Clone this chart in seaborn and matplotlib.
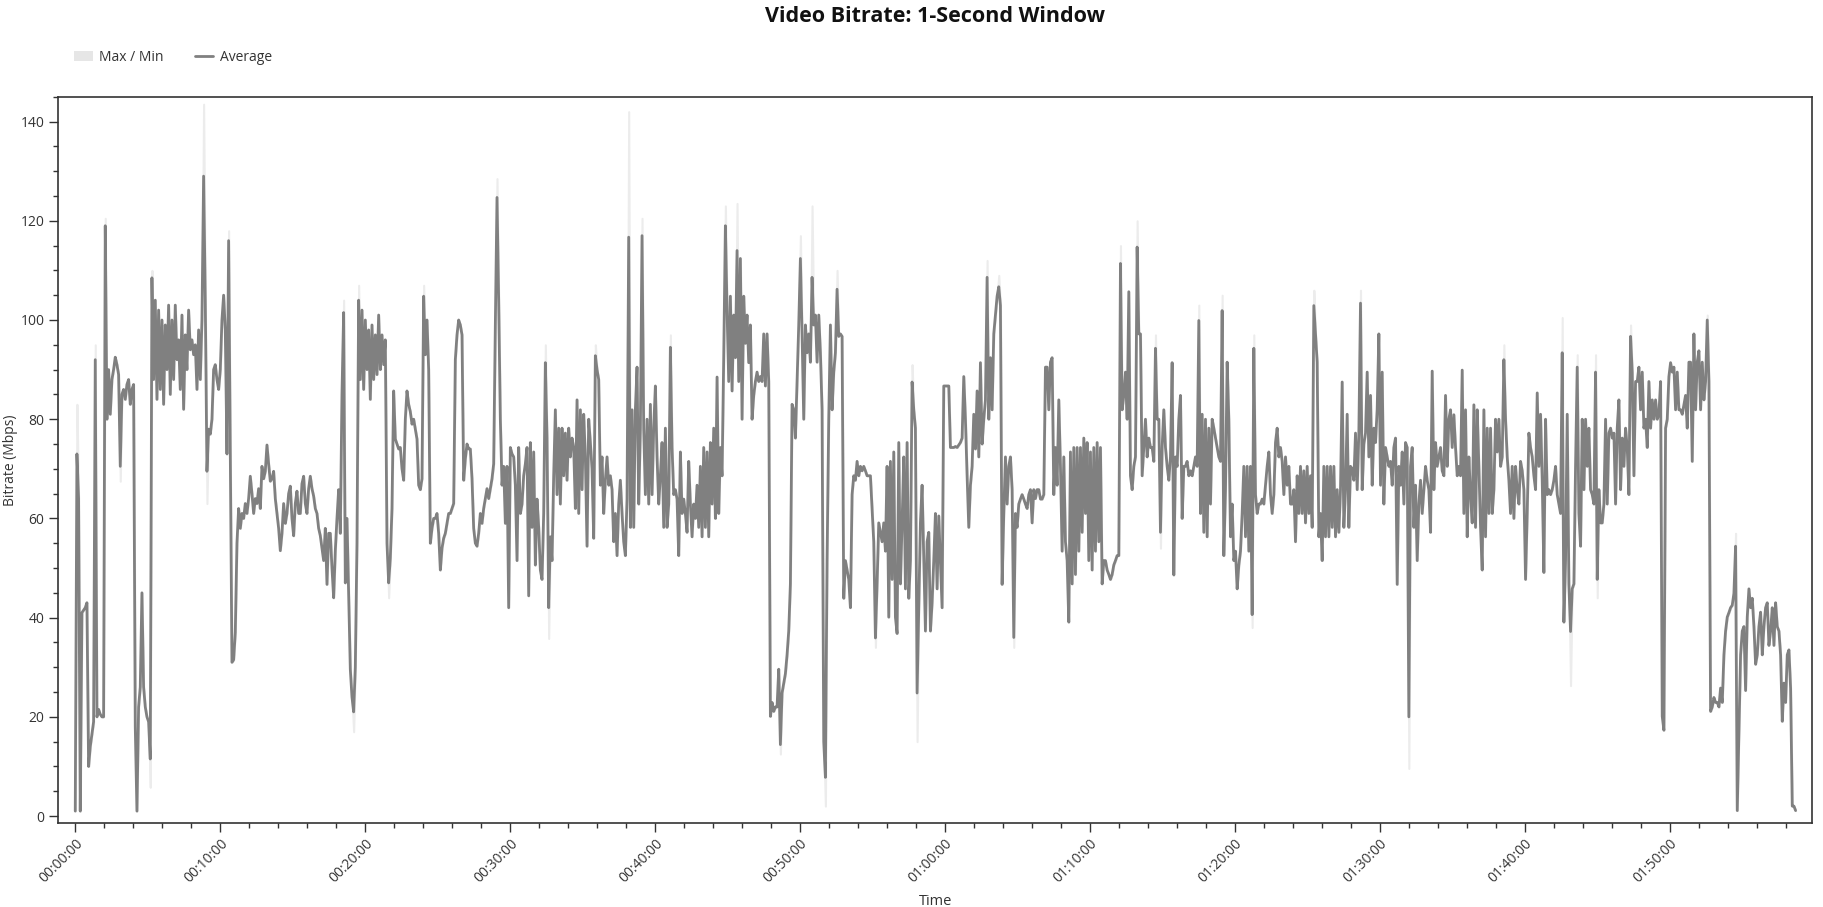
import numpy as np
import pandas as pd
import matplotlib
matplotlib.use("Agg")
import matplotlib.pyplot as plt
from matplotlib.patches import Patch
from matplotlib.lines import Line2D
from matplotlib.ticker import MultipleLocator, FuncFormatter
import seaborn as sns

# Average bitrate (Mbps), one reading every 6.9 s in four blocks
avg_block1 = [
    1.0, 73.0, 64.0, 1.0, 41.0, 41.5, 42.0, 43.0, 10.0, 14.0, 16.5, 19.0, 92.0, 20.0, 21.5, 20.5,
    20.0, 20.0, 119.0, 80.0, 90.0, 81.0, 88.0, 90.0, 92.5, 91.0, 89.0, 70.5, 85.0, 86.0, 84.0, 87.0,
    88.0, 83.0, 86.0, 87.0, 18.0, 1.0, 22.0, 26.0, 45.0, 26.0, 22.0, 20.0, 19.0, 11.5, 108.5, 88,
    104, 84, 102, 86, 100, 83, 99, 90, 103, 85, 100, 88, 103, 92, 96, 86,
    101, 82, 97, 90, 102, 94, 96, 93, 95, 86, 98, 88, 100, 129, 104, 69.5,
    78, 77, 80, 90, 91, 88, 86, 90, 100, 105, 98, 73, 116, 73, 31, 31.5,
    37, 55, 62, 58, 61, 60, 63, 61, 64, 68.5, 65, 61, 64, 63, 66, 62,
    70.5, 68, 69.5, 74.8, 71, 67.5, 68, 69.5, 64, 61, 58, 53.5, 57, 63, 59, 61,
    65, 66.5, 60, 56.5, 63, 65.5, 61, 61, 67, 68.5, 63, 61, 66, 68.5, 66, 64.5,
    62, 61, 58, 56.5, 54, 51.5, 58, 46.7, 57, 57, 50, 44, 53.5, 60, 65.8, 57,
    85, 101.5, 47, 60, 45, 29.6, 24, 21, 30, 55, 104, 88, 102, 86, 100, 90,
    98, 84, 99, 88, 97, 89, 101, 90, 97, 91, 96, 55, 47, 52, 62, 85.7,
    76, 75, 74, 74.3, 70, 67.7, 80, 85.7, 83, 81.5, 79, 80, 78, 76, 66.7, 65.8,
    68, 104.8, 93, 100, 90, 55, 58, 60, 60, 61, 57, 49.6, 54, 56, 57, 59,
    61, 61, 62, 63, 92, 97, 100, 99, 97, 67.7, 72, 75, 74, 74, 68, 58,
    55, 54.4, 57, 61, 59, 62, 64, 66, 64, 66, 68, 71, 99, 124.7, 104, 80,
    66.7, 70.5, 59, 70.5, 42,
]
avg_block2 = [
    74.3, 73, 72.4, 66.7, 51.5, 74.3, 61, 62.9, 68.6, 71, 74.3, 44.4, 75.3, 58.2, 73.4, 50.6,
    63.9, 58.2, 49.6, 47.7, 61, 91.4, 76.2, 42, 56.3, 51.5, 68.6, 81.9, 64.8, 78.2, 62.9, 78.2,
    68.6, 77.2, 67.7, 78.2, 72.4, 76.2, 74.3, 62, 83.9, 61, 81.9, 65.8, 81, 72.4, 54.4, 80,
    75.3, 70, 56, 92.8, 90, 88, 66.7, 72.4, 61, 67.7, 72.4, 66.7, 68.6, 65.8, 55.3, 61,
    52.5, 62.9, 67.7, 61, 55.3, 52.5, 63.9, 116.7, 58.2, 81.9, 58.2, 81.9, 90.5, 62.9, 78.2, 117,
    78, 64.8, 80, 62.9, 83, 64.8, 78.2, 86.7, 72.4, 62.9, 68.6, 75.3, 58.2, 78.2, 58.2, 62.9,
    94.5, 74.3, 64.8, 65.8, 63.9, 52.5, 73.4, 61, 63.9, 61, 57.2, 71.5, 62.9, 56.3, 62.9, 60,
    66.7, 58.2, 70.5, 56.3, 74.3, 58.2, 73.4, 56.3, 75.3, 62.9, 78.2, 60, 88.5, 61, 74.3, 68.6,
    92.4, 119, 102, 87.6, 104.8, 85.7, 101, 92.4, 114, 87.6, 112.4, 80, 104.8, 95.3, 101, 91.4,
    99, 80, 84.8, 87.6, 89.5, 87.6, 88.6, 87.6, 97.2, 86.7, 97.2, 87.6, 20.1, 22.9, 21.1, 22,
    22, 29.6, 14.4, 24.8, 26.8, 28.7, 32.5, 37.3, 46.8, 83, 81.9, 76.2, 87.6, 99, 112.4, 97.2,
    80, 99, 93.4, 97.2, 91.5, 108.6, 99, 101, 91.5, 101, 93.4, 81.9, 15, 7.8, 51.5, 80,
    99, 81.9, 89.5, 93.4, 106.2, 96.7, 97.2, 96.7, 43.9, 51.5, 49.6, 47.7, 42, 64.8, 68.6, 67.7,
    71.5, 68.6, 70.5, 69.6, 70.5, 69.6, 68.6, 68.6, 68.6, 62, 55.3, 35.9, 46.8, 59.1, 57.2, 55.3,
    59.1, 53.4, 70.5, 40.1, 71.5, 47.7, 73.4, 40.1, 36.8, 75.3, 46.8, 59.1, 72.4, 45.8, 75.3, 43.9,
    51.5, 87.5, 81.9, 78.2, 24.8, 42, 59.1, 66.7, 51.5, 37.3, 55.3, 57.2, 37.3,
]
avg_block3 = [
    43, 51.5, 61, 45.8, 60.5, 51.5, 42, 86.7, 86.7, 86.7, 86.7, 74.3, 74.3, 74.3, 74.5, 74.3,
    74.8, 75.3, 76.2, 88.6, 80, 68.6, 58.2, 66.7, 70.5, 81, 74, 85.7, 72.4, 91.4, 75, 80,
    83.9, 108.6, 80, 92.4, 81.9, 97.2, 101, 104.8, 106.7, 102.9, 46.7, 61, 72.4, 62.9, 70.5, 72.4,
    65.8, 36, 61, 58.2, 62.9, 63.9, 64.8, 63.9, 62.9, 62, 64.8, 65.8, 59.1, 65.8, 64, 65.8,
    65.8, 63.9, 63.9, 64.8, 90.5, 90.5, 81.9, 91.5, 92.4, 64.8, 74.3, 66.7, 83.9, 70.5, 53.4, 72.4,
    55.3, 51.5, 39.1, 73.4, 46.8, 74.3, 48.7, 74.3, 53.4, 74.3, 57.2, 76.2, 61, 75.3, 51.5, 73.4,
    49.6, 74.3, 53.4, 75.3, 55.3, 74.3, 46.8, 51.5, 51.5, 49.6, 48.7, 47.7, 48.7, 50.6, 51.5, 52.5,
    52.5, 111.4, 81.9, 84.8, 89.5, 80, 105.7, 68.6, 65.8, 70.5, 72.4, 114.7, 97.2, 97.2, 68.6, 74.3,
    80, 72.4, 76.2, 74.3, 74.3, 71.5, 94.3, 80, 80, 57.2, 74.3, 81.9, 74.3, 70.5, 67.7, 72.4,
    91.4, 48.6, 72.4, 70.5, 80, 84.8, 60, 70.5, 70.5, 71.5, 68.6, 69.6, 68.6, 70.5, 72.4, 70.5,
    99.9, 61, 81, 57.2, 80, 56.3, 78.2, 62.9, 80, 78.2, 76.2, 74.3, 72.4, 71.5, 101.9, 52.5,
    65.8, 91.5, 80, 56.3, 62.9, 51.5, 53.4, 45.8, 50.6, 53.4, 61, 70.5, 56.3, 70.5, 53.4, 70.5,
    40.6, 94.3, 64.8, 61, 62.9, 62.9, 63.9, 62.9, 66.7, 70.5, 73.4, 64.8, 61, 64.8, 75.3, 78.2,
    72.4, 74.3, 71.5, 64.8, 72.4, 66.7, 70.5, 62.9, 62.9, 65.8, 55.3, 68.6, 61, 70.5, 61, 69.6,
    59.1, 70.5, 61, 68.6, 58.2, 102.9, 97.2, 91.5, 56.3, 61, 51.5, 70.5, 56.3, 70.5, 56.3, 70.5,
    58.2, 70.5, 56.3, 65.8, 57.2, 65.8, 87.5, 58.2, 65.8, 81, 58.2, 70.5,
]
avg_block4 = [
    70, 67.7, 77.2, 65.8, 77.2, 103.4, 65.8, 75, 77.2, 89.5, 72.4, 84.8, 66.7, 78.2, 75.3, 82,
    97.2, 66.7, 89.5, 62.9, 74.3, 72.4, 70.5, 71.5, 66.7, 74.3, 76.2, 46.7, 70.5, 66.7, 73.4, 62.9,
    75.3, 74.3, 20, 70.5, 74.3, 58.2, 66.7, 51.5, 62.9, 67.7, 61, 65.8, 70.5, 67.7, 65.8, 57.2,
    89.7, 65.8, 75.3, 70.5, 72.4, 74.3, 69.6, 68.6, 84.8, 70.5, 80, 81.9, 74.3, 80.9, 74.3, 68.6,
    70.5, 68.6, 89.9, 61, 81.9, 56.3, 72.4, 64.8, 59.1, 82.9, 58.2, 81.9, 70.5, 58.2, 49.6, 81.9,
    56.3, 78.2, 61, 78.2, 61, 65.8, 80, 73.4, 80, 70.5, 72.4, 92, 80, 72.4, 67.7, 61,
    70.5, 60, 70.5, 65.8, 62.9, 71.5, 69.6, 65.8, 47.7, 61, 77.2, 74.3, 72.4, 68.6, 65.8, 85.3,
    70.5, 81, 67.7, 49.1, 80, 64.8, 65.8, 64.8, 65.8, 67.7, 70.5, 64.8, 62.9, 61, 93.4, 39.1,
    51.5, 81, 46.8, 37.2, 45.8, 46.8, 70.5, 90.5, 61, 54.4, 80, 65.8, 80, 70.5, 78.2, 65.8,
    64.8, 62.9, 89.5, 47.7, 65.8, 59.1, 59.1, 62.9, 80, 62.9, 77.2, 78.2, 76.2, 77.2, 62.9, 78.2,
    83.9, 65.8, 76.2, 70.5, 78.2, 74.3, 64.8, 96.7, 89.5, 68.6, 87.6, 87.6, 90.5, 81.9, 89.5, 78.2,
    80, 74.3, 87.6, 78.2, 83.9, 80, 83.9, 80, 81, 87.6, 20.1, 17.3, 78.2, 80, 88.6, 91.4,
    89.5, 90.5, 81.9, 89.5, 81.9, 81.9, 81, 82.9, 84.8, 78.2, 91.5, 91.5, 71.5, 97.2, 81.9, 91.5,
    93.8, 81.9, 91.5, 83.9, 87.6, 100, 87.6, 21.1, 22, 23.9, 22.9, 22.9, 22, 25.8, 22.9, 32.5,
    37.3, 40.1, 41, 42, 42.5, 44.9, 54.4, 1.1, 17.3, 32.5, 37.3, 38.2, 25.3, 40.1, 45.8, 42,
    43.9, 38.2, 30.6, 32.5, 38.2, 41.1, 32.5, 38.2, 42, 43, 34.4, 37.3, 42, 34.4, 43, 38.2,
    37.3, 32.5, 19.1, 26.8, 22.9, 32.5, 33.5, 25.8, 2.0, 2.0, 1.1,
]

# readings where the max / min envelope clearly leaves the average line
max_idx = [1, 12, 18, 46, 77, 92, 161, 170, 209, 253, 282, 312, 332, 340, 357, 390, 397,
           435, 442, 457, 502, 547, 554, 627, 637, 648, 674, 688, 707, 743, 771, 857, 892,
           901, 912, 933, 979, 996]
max_val = [83, 95, 120.5, 110, 143.5, 118, 104, 107, 107, 128.5, 95, 95, 142, 120.5, 97, 123,
           123.5, 117, 123, 110, 91, 112, 109, 115, 120, 97, 103, 105, 97, 106, 106, 95, 100.5,
           93, 93, 99, 101, 57]
min_idx = [27, 45, 79, 167, 188, 284, 423, 450, 480, 505, 563, 651, 706, 800, 897, 913]
min_val = [67.5, 5.8, 63, 17, 44, 35.8, 12.5, 2, 34, 15, 34, 54, 38, 9.6, 26.3, 44]

SAMPLE_S = 6.9

avg = np.array(avg_block1 + avg_block2 + avg_block3 + avg_block4, dtype=float)
df = pd.DataFrame({"t": np.arange(len(avg)) * SAMPLE_S, "avg": avg})
df["max"] = df["avg"]
df["min"] = df["avg"]
df.loc[max_idx, "max"] = max_val
df.loc[min_idx, "min"] = min_val

sns.set_style("ticks")
plt.rcParams["font.family"] = ["Open Sans", "DejaVu Sans"]

fig = plt.figure(figsize=(18.23, 9.07), dpi=100)
ax = fig.add_axes([0.032, 0.0929, 0.962, 0.8004])

ax.fill_between(df["t"], df["min"], df["max"], color="#ececec", lw=1.5, zorder=1)
sns.lineplot(data=df, x="t", y="avg", ax=ax, color="#808080", lw=2.0,
             estimator=None, zorder=2)

ax.set_xlim(-70, 7189)
ax.set_ylim(-1.35, 145.0)

ax.xaxis.set_major_locator(MultipleLocator(600))
ax.xaxis.set_minor_locator(MultipleLocator(120))
ax.yaxis.set_major_locator(MultipleLocator(20))
ax.yaxis.set_minor_locator(MultipleLocator(5))


def hms(x, pos):
    s = int(round(x))
    return f"{s // 3600:02d}:{(s % 3600) // 60:02d}:{s % 60:02d}"


ax.xaxis.set_major_formatter(FuncFormatter(hms))
ax.tick_params(axis="both", which="major", length=6.5, width=1, color="#333333",
               labelsize=10, labelcolor="#333333")
ax.tick_params(axis="both", which="minor", length=3.6, width=1, color="#333333")
for lab in ax.get_xticklabels():
    lab.set_rotation(45)
    lab.set_ha("right")
    lab.set_rotation_mode("anchor")

for sp in ax.spines.values():
    sp.set_visible(True)
    sp.set_color("#333333")
    sp.set_linewidth(1.2)

ax.set_xlabel("Time", fontsize=10.5, color="#333333")
ax.set_ylabel("Bitrate (Mbps)", fontsize=10, color="#333333")
ax.xaxis.set_label_coords(0.5, -0.108)
ax.xaxis.label.set_va("center")
ax.yaxis.set_label_coords(-0.0275, 0.5)
ax.yaxis.label.set_va("center")

fig.suptitle("Video Bitrate: 1-Second Window", x=0.513, y=0.982, va="center",
             fontsize=15.5, fontweight="bold", color="#111111")

handles = [Patch(facecolor="#e6e6e6", edgecolor="none", label="Max / Min"),
           Line2D([], [], color="#808080", lw=2.0, label="Average")]
fig.legend(handles=handles, loc="center left", bbox_to_anchor=(0.034, 0.937), ncol=2,
           frameon=False, fontsize=10, handlelength=1.3, handletextpad=0.5,
           columnspacing=2.2, labelcolor="#333333")

fig.savefig("out.png", dpi=100)
